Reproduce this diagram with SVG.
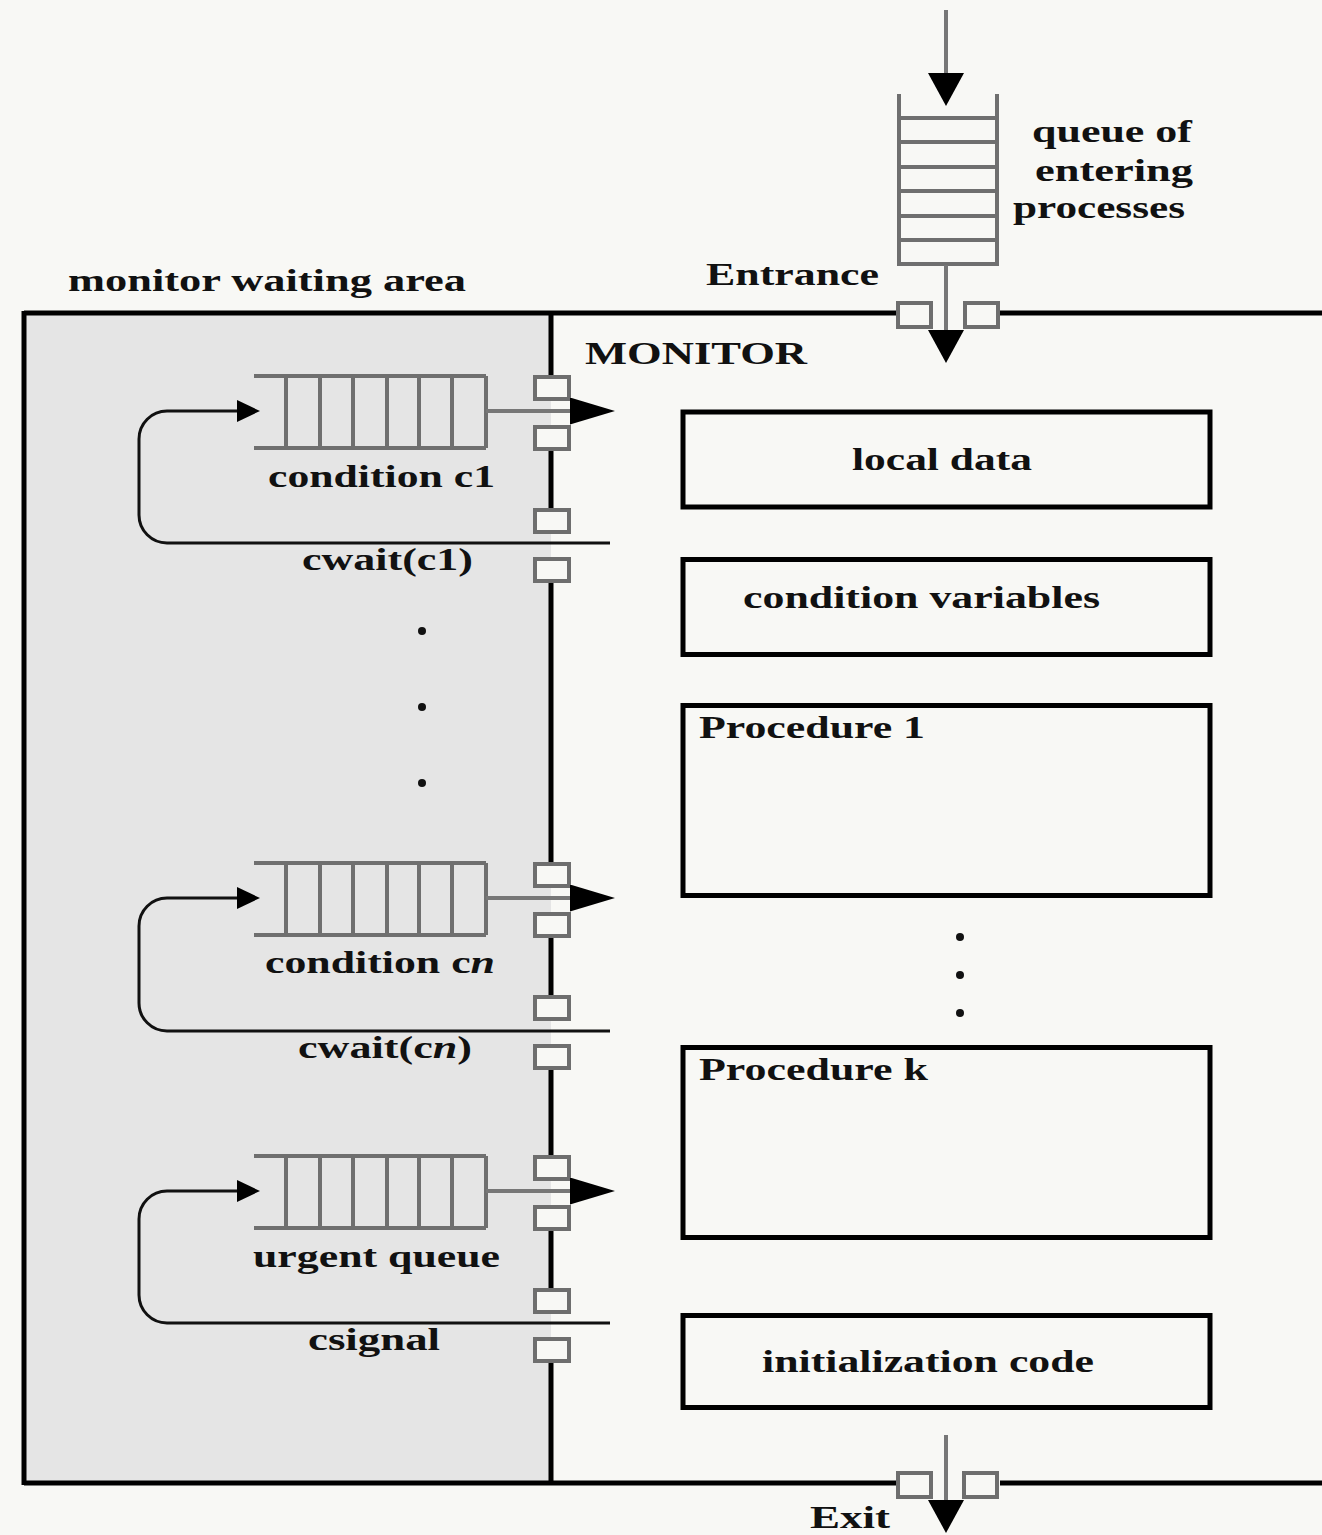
<svg xmlns="http://www.w3.org/2000/svg" xmlns:xlink="http://www.w3.org/1999/xlink" width="1322" height="1535" viewBox="0 0 1322 1535">
  <style>
    .t { font-family: "Liberation Serif", "Times New Roman", serif; font-weight: bold; font-size: 31px; fill: #111; }
    .q { stroke: #6f6f6f; stroke-width: 4; fill: none; }
    .door { fill: #f8f8f5; stroke: #6e6e6e; stroke-width: 4; }
    .wall { stroke: #000; stroke-width: 5; fill: none; }
    .box { stroke: #000; stroke-width: 5; fill: none; }
    .flow { stroke: #777; stroke-width: 4; fill: none; }
    .loop { stroke: #111; stroke-width: 3; fill: none; }
    .dot { fill: #111; }
  </style>
  <defs>
    <marker id="headBig" markerUnits="userSpaceOnUse" markerWidth="45" markerHeight="27" refX="25" refY="13.5" orient="auto">
      <path d="M0,0 L45,13.5 L0,27 Z" fill="#000"/>
    </marker>
    <marker id="headSmall" markerUnits="userSpaceOnUse" markerWidth="23" markerHeight="22" refX="13" refY="11" orient="auto">
      <path d="M0,0 L23,11 L0,22 Z" fill="#000"/>
    </marker>
    <marker id="headDown" markerUnits="userSpaceOnUse" markerWidth="33" markerHeight="36" refX="13" refY="18" orient="auto">
      <path d="M0,0 L33,18 L0,36 Z" fill="#000"/>
    </marker>
    <!-- horizontal wait queue: open at the left, seven cells -->
    <g id="hqueue" class="q">
      <line x1="254" y1="376" x2="486" y2="376"/>
      <line x1="254" y1="448" x2="486" y2="448"/>
      <line x1="286" y1="376" x2="286" y2="448"/>
      <line x1="320" y1="376" x2="320" y2="448"/>
      <line x1="353" y1="376" x2="353" y2="448"/>
      <line x1="387" y1="376" x2="387" y2="448"/>
      <line x1="419" y1="376" x2="419" y2="448"/>
      <line x1="452" y1="376" x2="452" y2="448"/>
      <line x1="486" y1="376" x2="486" y2="448"/>
    </g>
    <!-- four doors on the wall between waiting area and monitor -->
    <g id="doors">
      <rect class="door" x="535" y="377" width="34" height="22"/>
      <rect class="door" x="535" y="427" width="34" height="22"/>
      <rect class="door" x="535" y="510" width="34" height="22"/>
      <rect class="door" x="535" y="559" width="34" height="22"/>
    </g>
  </defs>

  <rect x="0" y="0" width="1322" height="1535" fill="#f8f8f5"/>

  <!-- monitor waiting area (shaded) -->
  <rect id="waiting-area" x="24" y="313" width="527" height="1170" fill="#e5e5e5"/>

  <!-- monitor outline -->
  <g id="monitor-frame">
    <line class="wall" x1="24" y1="313" x2="896" y2="313"/>
    <line class="wall" x1="1000" y1="313" x2="1322" y2="313"/>
    <line class="wall" x1="24" y1="1483" x2="896" y2="1483"/>
    <line class="wall" x1="1000" y1="1483" x2="1322" y2="1483"/>
    <line class="wall" x1="24" y1="311" x2="24" y2="1485"/>
    <path class="wall" d="M551,313 V375 M551,450 V508 M551,582 V863 M551,937 V995 M551,1070 V1155 M551,1229 V1288 M551,1362 V1483"/>
  </g>

  <text class="t" x="68" y="291" textLength="398" lengthAdjust="spacingAndGlyphs">monitor waiting area</text>
  <text class="t" x="585" y="364" textLength="222" lengthAdjust="spacingAndGlyphs">MONITOR</text>

  <!-- queue of entering processes -->
  <g id="entry-queue">
    <g class="q">
      <line x1="899" y1="94" x2="899" y2="266"/>
      <line x1="997" y1="94" x2="997" y2="266"/>
      <line x1="899" y1="118" x2="997" y2="118"/>
      <line x1="899" y1="142" x2="997" y2="142"/>
      <line x1="899" y1="167" x2="997" y2="167"/>
      <line x1="899" y1="191" x2="997" y2="191"/>
      <line x1="899" y1="216" x2="997" y2="216"/>
      <line x1="899" y1="240" x2="997" y2="240"/>
      <line x1="899" y1="264" x2="997" y2="264"/>
    </g>
    <text class="t" x="1032" y="142" textLength="160" lengthAdjust="spacingAndGlyphs">queue of</text>
    <text class="t" x="1035" y="181" textLength="158" lengthAdjust="spacingAndGlyphs">entering</text>
    <text class="t" x="1013" y="218" textLength="172" lengthAdjust="spacingAndGlyphs">processes</text>
  </g>

  <g id="entrance">
    <rect class="door" x="898" y="303" width="33" height="24"/>
    <rect class="door" x="965" y="303" width="33" height="24"/>
    <text class="t" x="706" y="285" textLength="173" lengthAdjust="spacingAndGlyphs">Entrance</text>
  </g>

  <g id="exit">
    <rect class="door" x="898" y="1473" width="33" height="24"/>
    <rect class="door" x="964" y="1473" width="33" height="24"/>
    <text class="t" x="810" y="1528" textLength="80" lengthAdjust="spacingAndGlyphs">Exit</text>
  </g>

  <!-- condition c1 -->
  <g id="cond-c1">
    <use xlink:href="#hqueue"/>
    <use xlink:href="#doors"/>
    <text class="t" x="268" y="487" textLength="227" lengthAdjust="spacingAndGlyphs">condition c1</text>
    <text class="t" x="302" y="570" textLength="171" lengthAdjust="spacingAndGlyphs">cwait(c1)</text>
  </g>

  <g id="dots-left">
    <circle class="dot" cx="422" cy="631" r="4"/>
    <circle class="dot" cx="422" cy="707" r="4"/>
    <circle class="dot" cx="422" cy="783" r="4"/>
  </g>

  <!-- condition cn -->
  <g id="cond-cn" transform="translate(0,487)">
    <use xlink:href="#hqueue"/>
    <use xlink:href="#doors"/>
    <text class="t" x="265" y="486" textLength="230" lengthAdjust="spacingAndGlyphs">condition c<tspan font-style="italic">n</tspan></text>
    <text class="t" x="298" y="571" textLength="174" lengthAdjust="spacingAndGlyphs">cwait(c<tspan font-style="italic">n</tspan>)</text>
  </g>

  <!-- urgent queue -->
  <g id="urgent" transform="translate(0,780)">
    <use xlink:href="#hqueue"/>
    <use xlink:href="#doors"/>
    <text class="t" x="253" y="487" textLength="247" lengthAdjust="spacingAndGlyphs">urgent queue</text>
    <text class="t" x="308" y="570" textLength="132" lengthAdjust="spacingAndGlyphs">csignal</text>
  </g>

  <!-- monitor contents -->
  <g id="local-data">
    <rect class="box" x="683" y="412" width="527" height="95"/>
    <text class="t" x="852" y="470" textLength="180" lengthAdjust="spacingAndGlyphs">local data</text>
  </g>
  <g id="condition-variables">
    <rect class="box" x="683" y="559.5" width="527" height="95"/>
    <text class="t" x="743" y="608" textLength="357" lengthAdjust="spacingAndGlyphs">condition variables</text>
  </g>
  <g id="procedure-1">
    <rect class="box" x="683" y="705.5" width="527" height="190"/>
    <text class="t" x="699" y="738" textLength="226" lengthAdjust="spacingAndGlyphs">Procedure 1</text>
  </g>
  <g id="dots-right">
    <circle class="dot" cx="960" cy="937" r="4"/>
    <circle class="dot" cx="960" cy="975" r="4"/>
    <circle class="dot" cx="960" cy="1013" r="4"/>
  </g>
  <g id="procedure-k">
    <rect class="box" x="683" y="1047.5" width="527" height="190"/>
    <text class="t" x="699" y="1080" textLength="229" lengthAdjust="spacingAndGlyphs">Procedure k</text>
  </g>
  <g id="init-code">
    <rect class="box" x="683" y="1315.5" width="527" height="92"/>
    <text class="t" x="762" y="1372" textLength="332" lengthAdjust="spacingAndGlyphs">initialization code</text>
  </g>

  <!-- connectors -->
  <g id="connectors">
    <line class="flow" x1="946" y1="10" x2="946" y2="86" marker-end="url(#headDown)"/>
    <line class="flow" x1="946" y1="265" x2="946" y2="343" marker-end="url(#headDown)"/>
    <line class="flow" x1="946" y1="1435" x2="946" y2="1513" marker-end="url(#headDown)"/>

    <line class="flow" x1="486" y1="411" x2="595" y2="411" marker-end="url(#headBig)"/>
    <line class="flow" x1="486" y1="898" x2="595" y2="898" marker-end="url(#headBig)"/>
    <line class="flow" x1="486" y1="1191" x2="595" y2="1191" marker-end="url(#headBig)"/>

    <path class="loop" d="M610,543 H167 A28,28 0 0 1 139,515 V439 A28,28 0 0 1 167,411 H250" marker-end="url(#headSmall)"/>
    <path class="loop" d="M610,1031 H167 A28,28 0 0 1 139,1003 V926 A28,28 0 0 1 167,898 H250" marker-end="url(#headSmall)"/>
    <path class="loop" d="M610,1323 H167 A28,28 0 0 1 139,1295 V1219 A28,28 0 0 1 167,1191 H250" marker-end="url(#headSmall)"/>
  </g>
</svg>
